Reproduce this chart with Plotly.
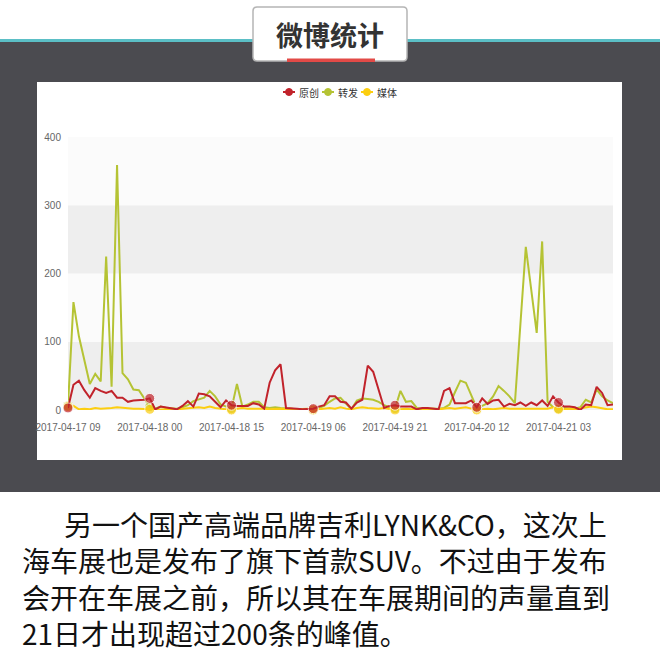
import plotly.graph_objects as go
import pandas as pd

# ---------------- data ----------------
CATEGORIES = pd.date_range("2017-04-17 09:00", periods=101, freq="h").strftime("%Y-%m-%d %H").tolist()
TICK_LABELS = ["2017-04-17 09", "2017-04-18 00", "2017-04-18 15", "2017-04-19 06",
               "2017-04-19 21", "2017-04-20 12", "2017-04-21 03"]
Y_TICKS = [0, 100, 200, 300, 400]
SERIES_NAMES = ["原创", "转发", "媒体"]

ORIGINAL = [3, 37, 43, 29, 18, 32, 28, 25, 28, 18,
            18, 12, 14, 14, 15, 17, 1, 5, 4, 3,
            1, 6, 13, 5, 24, 23, 20, 12, 4, 14,
            7, 6, 6, 6, 10, 8, 2, 40, 58, 67,
            3, 3, 2, 1, 2, 2, 5, 7, 20, 20,
            12, 11, 2, 11, 15, 65, 56, 29, 3, 6,
            7, 5, 5, 5, 1, 3, 3, 2, 1, 28,
            32, 10, 10, 10, 14, 4, 17, 9, 14, 15,
            5, 9, 7, 11, 6, 11, 7, 14, 6, 20,
            11, 5, 5, 4, 0, 8, 7, 34, 25, 7,
            8]

REPOST = [6, 158, 108, 72, 38, 53, 42, 225, 34, 359,
          54, 45, 30, 29, 16, 5, 2, 5, 3, 2,
          2, 4, 7, 13, 16, 18, 28, 20, 8, 5,
          2, 38, 5, 8, 12, 12, 4, 3, 4, 3,
          2, 1, 1, 1, 1, 1, 3, 6, 12, 17,
          18, 10, 1, 14, 17, 16, 15, 12, 7, 4,
          2, 28, 12, 13, 3, 2, 2, 1, 2, 3,
          8, 26, 43, 40, 21, 3, 6, 10, 20, 35,
          28, 20, 10, 125, 239, 176, 113, 247, 12, 4,
          2, 3, 3, 2, 4, 15, 11, 30, 20, 14,
          10]

MEDIA = [5, 6, 1, 2, 1, 3, 2, 2, 3, 4,
         3, 2, 2, 2, 2, 1, 0, 1, 1, 2,
         1, 2, 3, 3, 4, 3, 5, 3, 2, 2,
         0, 2, 3, 2, 2, 3, 2, 1, 2, 2,
         1, 2, 1, 1, 2, 0, 1, 2, 3, 2,
         4, 2, 1, 3, 4, 3, 2, 2, 3, 2,
         0, 1, 2, 1, 2, 1, 2, 2, 1, 2,
         3, 2, 3, 4, 2, 0, 1, 2, 1, 2,
         3, 2, 2, 3, 2, 3, 2, 3, 2, 4,
         1, 1, 2, 1, 2, 3, 5, 4, 2, 1,
         1]

COLORS = {"原创": "#C1232B", "转发": "#B5C334", "媒体": "#FCCE10"}

TITLE = "微博统计"
PARAGRAPH = ["\u3000\u2002另一个国产高端品牌吉利LYNK&CO，这次上",
             "海车展也是发布了旗下首款SUV。不过由于发布",
             "会开在车展之前，所以其在车展期间的声量直到",
             "21日才出现超过200条的峰值。"]

# ---------------- helpers ----------------
W = H = 660


def px(x):
    return x / W


def py(y):
    return 1 - y / H


marker_sizes = [10 if c in TICK_LABELS else 0 for c in CATEGORIES]

fig = go.Figure()
for name, vals in [("转发", REPOST), ("媒体", MEDIA), ("原创", ORIGINAL)]:
    fig.add_trace(go.Scatter(
        x=CATEGORIES, y=vals, name=name, mode="lines+markers",
        line=dict(color=COLORS[name], width=2),
        marker=dict(size=marker_sizes, color=COLORS[name], line=dict(color="white", width=1)),
        cliponaxis=False, showlegend=False, hoverinfo="x+y+name",
    ))

shapes = []
# dark background and teal stripe
shapes.append(dict(type="rect", xref="paper", yref="paper", x0=0, x1=1, y0=py(492), y1=py(42),
                   fillcolor="#4b4b50", line=dict(width=0), layer="below"))
shapes.append(dict(type="rect", xref="paper", yref="paper", x0=0, x1=1, y0=py(42), y1=py(39),
                   fillcolor="#5bbfc6", line=dict(width=0), layer="below"))
# white chart panel
shapes.append(dict(type="rect", xref="paper", yref="paper", x0=px(37), x1=px(622), y0=py(460), y1=py(82),
                   fillcolor="white", line=dict(width=0), layer="below"))
# split area bands
band_colors = ["#eeeeee", "#fbfbfb", "#eeeeee", "#fbfbfb"]
for i in range(4):
    shapes.append(dict(type="rect", xref="x domain", yref="y", x0=0, x1=1,
                       y0=Y_TICKS[i], y1=Y_TICKS[i + 1], fillcolor=band_colors[i],
                       line=dict(width=0), layer="below"))
# title box (rounded)
bx0, bx1, by0, by1, r = px(253), px(407), py(61), py(7), 0.006
path = (f"M {bx0 + r},{by0} L {bx1 - r},{by0} Q {bx1},{by0} {bx1},{by0 + r} "
        f"L {bx1},{by1 - r} Q {bx1},{by1} {bx1 - r},{by1} L {bx0 + r},{by1} "
        f"Q {bx0},{by1} {bx0},{by1 - r} L {bx0},{by0 + r} Q {bx0},{by0} {bx0 + r},{by0} Z")
shapes.append(dict(type="path", xref="paper", yref="paper", path=path,
                   fillcolor="white", line=dict(color="#b5b5b5", width=1.5), layer="above"))
shapes.append(dict(type="rect", xref="paper", yref="paper", x0=px(287), x1=px(375), y0=py(62), y1=py(58.5),
                   fillcolor="#e24a47", line=dict(width=0), layer="above"))

annotations = []
# legend (manual)
legend_pos = [("原创", 289, 297), ("转发", 328, 336), ("媒体", 367, 375)]
ly = 92
for name, cx, tx in legend_pos:
    shapes.append(dict(type="line", xref="paper", yref="paper", x0=px(cx - 6), x1=px(cx + 6),
                       y0=py(ly), y1=py(ly), line=dict(color=COLORS[name], width=2), layer="above"))
    shapes.append(dict(type="circle", xref="paper", yref="paper", x0=px(cx - 3.5), x1=px(cx + 3.5),
                       y0=py(ly + 3.5), y1=py(ly - 3.5), fillcolor=COLORS[name],
                       line=dict(color=COLORS[name], width=1), layer="above"))
    annotations.append(dict(xref="paper", yref="paper", x=px(tx), y=py(ly), text=name, showarrow=False,
                            xanchor="left", yanchor="middle",
                            font=dict(family="Noto Sans CJK SC", size=10, color="#333333")))

# title text
annotations.append(dict(xref="paper", yref="paper", x=px(330), y=py(34), text=f"<b>{TITLE}</b>",
                        showarrow=False, xanchor="center", yanchor="middle",
                        font=dict(family="Noto Sans CJK SC", size=27, color="#333333")))

# paragraph (one multi-line text block)
annotations.append(dict(xref="paper", yref="paper", x=px(20), y=py(578.5), text="<br>".join(PARAGRAPH),
                        showarrow=False, xanchor="left", yanchor="middle", align="left",
                        font=dict(family="Noto Sans CJK SC", size=28, color="#111111")))

tick_font = dict(family="Liberation Sans Narrow, Liberation Sans, Arial", size=10, color="#666666")
fig.update_layout(
    width=W, height=H, margin=dict(l=0, r=0, t=0, b=0, autoexpand=False),
    paper_bgcolor="white", plot_bgcolor="rgba(0,0,0,0)",
    shapes=shapes, annotations=annotations, showlegend=False,
    xaxis=dict(domain=[px(68), px(613)], type="category", categoryorder="array",
               categoryarray=CATEGORIES, range=[0, len(CATEGORIES) - 1],
               tickmode="array", tickvals=TICK_LABELS, ticktext=TICK_LABELS,
               showgrid=False, zeroline=False, showline=False, ticks="",
               tickfont=tick_font, ticklabelstandoff=10, tickangle=0, automargin=False),
    yaxis=dict(domain=[py(410), py(137)], range=[0, 400], tickmode="array", tickvals=Y_TICKS,
               showgrid=False, zeroline=False, showline=False, ticks="",
               tickfont=tick_font, ticklabelstandoff=6, automargin=False),
)

fig.write_html("out.html", config={"displayModeBar": False},
               post_script="document.body.style.margin='0';document.body.style.overflow='hidden';")
